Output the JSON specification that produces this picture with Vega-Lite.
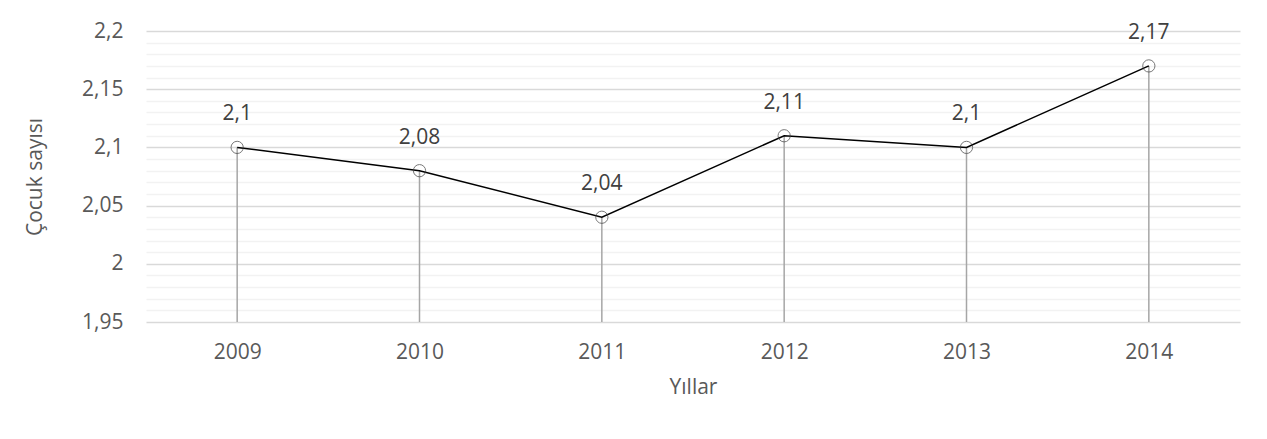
{
  "$schema": "https://vega.github.io/schema/vega-lite/v6.json",
  "width": 1094,
  "height": 291,
  "autosize": {"type": "none"},
  "padding": {"left": 146, "top": 31, "right": 27, "bottom": 117},
  "background": "white",
  "config": {
    "font": "Open Sans",
    "view": {"stroke": null},
    "locale": {"number": {"decimal": ",", "thousands": ".", "grouping": [3], "currency": ["", " TL"]}}
  },
  "data": {
    "values": [
      {"yil": "2009", "deger": 2.10},
      {"yil": "2010", "deger": 2.08},
      {"yil": "2011", "deger": 2.04},
      {"yil": "2012", "deger": 2.11},
      {"yil": "2013", "deger": 2.10},
      {"yil": "2014", "deger": 2.17}
    ]
  },
  "encoding": {
    "x": {
      "field": "yil", "type": "ordinal",
      "scale": {"type": "point", "padding": 0.5},
      "axis": {
        "title": "Yıllar", "labelAngle": 0, "ticks": false, "domain": false, "grid": false,
        "labelFontSize": 21, "labelColor": "#595959", "labelPadding": 19,
        "titleFontSize": 21, "titleColor": "#595959", "titleFontWeight": "normal", "titlePadding": 14
      }
    },
    "y": {
      "field": "deger", "type": "quantitative",
      "scale": {"domain": [1.95, 2.2], "zero": false, "nice": false},
      "axis": {
        "orient": "left", "title": "Çocuk sayısı", "ticks": false, "domain": false,
        "grid": true, "gridWidth": 1.5,
        "gridColor": {"condition": {"test": "abs(datum.value*20 - round(datum.value*20)) < 0.001", "value": "#d9d9d9"}, "value": "#f2f2f2"},
        "values": [1.95, 1.96, 1.97, 1.98, 1.99, 2.0, 2.01, 2.02, 2.03, 2.04, 2.05, 2.06, 2.07, 2.08, 2.09, 2.1, 2.11, 2.12, 2.13, 2.14, 2.15, 2.16, 2.17, 2.18, 2.19, 2.2],
        "labelExpr": "abs(datum.value*20 - round(datum.value*20)) < 0.001 ? format(datum.value, '~g') : ''",
        "labelFontSize": 21, "labelColor": "#595959", "labelPadding": 23,
        "titleFontSize": 21, "titleColor": "#595959", "titleFontWeight": "normal", "titlePadding": 36
      }
    }
  },
  "layer": [
    {
      "mark": {"type": "rule", "color": "#a6a6a6", "strokeWidth": 1.5},
      "encoding": {"y2": {"datum": 1.95}}
    },
    {
      "mark": {"type": "line", "color": "#000000", "strokeWidth": 1.5},
      "encoding": {}
    },
    {
      "mark": {"type": "point", "shape": "circle", "filled": false, "stroke": "#404040", "strokeWidth": 1, "size": 150},
      "encoding": {}
    },
    {
      "mark": {"type": "text", "dy": -33, "fontSize": 21, "color": "#404040"},
      "encoding": {
        "text": {"field": "deger", "type": "quantitative", "format": "~g"}
      }
    }
  ]
}
